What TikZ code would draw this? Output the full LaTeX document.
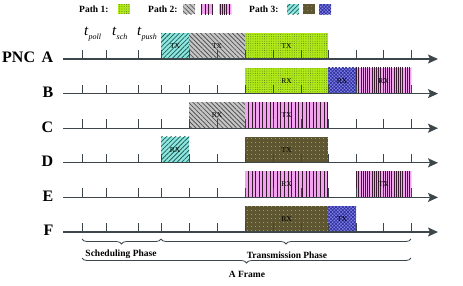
\documentclass[tikz,border=0pt]{standalone}
\usepackage{fontspec}
\setmainfont{Liberation Serif}
\usetikzlibrary{patterns.meta,decorations.pathreplacing,arrows.meta}
\definecolor{axisc}{HTML}{3C464B}
\definecolor{limeg}{HTML}{B0E81A}
\definecolor{limedot}{HTML}{4E7A10}
\definecolor{grayh}{HTML}{C6C6C6}
\definecolor{grayl}{HTML}{555555}
\definecolor{pinkf}{HTML}{F2A2EE}
\definecolor{pinkl}{HTML}{3A1A30}
\definecolor{cyanf}{HTML}{8FE8E0}
\definecolor{cyanl}{HTML}{1F5F5A}
\definecolor{olivef}{HTML}{5E5630}
\definecolor{olived}{HTML}{D8D060}
\definecolor{bluef}{HTML}{8484F0}
\definecolor{bluel}{HTML}{30309A}
\newcommand\myslot[6]{% name, row y, x1, x2, style, text
  \fill[#5] (#3,-#2) rectangle (#4,-#2+26);
  \node[slotlbl] (#1) at ({(#3+#4)/2},-#2+13) {#6};}
\begin{document}
\begin{tikzpicture}[x=1pt,y=1pt,
  pA/.style={fill=limeg,postaction={pattern={Dots[radius=0.45pt,distance=2.3pt]},pattern color=limedot}},
  pB/.style={fill=grayh,postaction={pattern={Lines[angle=-45,distance=3.2pt,line width=0.8pt]},pattern color=grayl}},
  pC/.style={fill=pinkf,postaction={pattern={Lines[angle=90,distance=3.6pt,line width=0.7pt]},pattern color=pinkl}},
  pD/.style={fill=pinkf,postaction={pattern={Lines[angle=90,distance=2.2pt,line width=0.55pt]},pattern color=pinkl}},
  pE/.style={fill=cyanf,postaction={pattern={Lines[angle=45,distance=3.2pt,line width=0.8pt]},pattern color=cyanl}},
  pF/.style={fill=olivef,postaction={pattern={Dots[radius=0.5pt,distance=4pt]},pattern color=olived}},
  pG/.style={fill=bluef,postaction={pattern={Hatch[angle=45,distance=2.4pt,line width=0.7pt]},pattern color=bluel}},
  slotlbl/.style={inner sep=0pt,font=\fontsize{7.5}{8}\selectfont},
  axisline/.style={draw=axisc,line width=1.3pt,-{Stealth[length=10pt,width=9pt,inset=2pt]}},
  tickline/.style={draw=axisc,line width=0.9pt},
  rowlbl/.style={inner sep=0pt,font=\fontsize{16}{18}\selectfont\bfseries,anchor=base east},
  leglbl/.style={inner sep=0pt,font=\fontsize{9.5}{11}\selectfont\bfseries,anchor=base west},
  phaselbl/.style={inner sep=0pt,font=\fontsize{9.5}{11}\selectfont\bfseries,anchor=base},
  tlbl/.style={inner sep=0pt,anchor=base west},
  bracel/.style={draw=axisc,line width=0.8pt,decorate,decoration={brace,mirror,amplitude=5pt}}]
\useasboundingbox (0,0) rectangle (463,-285);
% legend
\node[leglbl] (lp1) at (79,-12) {Path 1:};
\fill[pA] (118,-4) rectangle (130,-14);
\node[leglbl] (lp2) at (148,-12) {Path 2:};
\fill[pB] (183,-4) rectangle (195,-14);
\fill[pC] (201,-4) rectangle (213,-14);
\fill[pD] (219,-4) rectangle (231,-14);
\node[leglbl] (lp3) at (249,-12) {Path 3:};
\fill[pE] (287,-4) rectangle (299,-14);
\fill[pF] (303,-4) rectangle (315,-14);
\fill[pG] (319,-4) rectangle (331,-14);
% t labels
\node[tlbl] (tpoll) at (84,-35) {\fontsize{15}{15}\selectfont\textit{t}\raisebox{-4pt}{\fontsize{8}{8}\selectfont\textit{poll}}};
\node[tlbl] (tsch) at (112,-35) {\fontsize{15}{15}\selectfont\textit{t}\raisebox{-4pt}{\fontsize{8}{8}\selectfont\textit{sch}}};
\node[tlbl] (tpush) at (137,-35) {\fontsize{15}{15}\selectfont\textit{t}\raisebox{-4pt}{\fontsize{8}{8}\selectfont\textit{push}}};
% slots
\myslot{a1}{59}{161}{189}{pE}{TX}
\myslot{a2}{59}{189}{245}{pB}{TX}
\myslot{a3}{59}{245}{328}{pA}{TX}
\myslot{b1}{93.6}{245}{328}{pA}{RX}
\myslot{b2}{93.6}{328}{356}{pG}{RX}
\myslot{b3}{93.6}{356}{411}{pD}{RX}
\myslot{c1}{128.2}{189}{245}{pB}{RX}
\myslot{c2}{128.2}{245}{328}{pC}{TX}
\myslot{d1}{162.8}{161}{189}{pE}{RX}
\myslot{d2}{162.8}{245}{328}{pF}{TX}
\myslot{e1}{197.4}{245}{328}{pC}{RX}
\myslot{e2}{197.4}{356}{411}{pD}{TX}
\myslot{f1}{232}{245}{328}{pF}{RX}
\myslot{f2}{232}{328}{356}{pG}{TX}
% axes
\node[inner sep=0pt,font=\fontsize{16}{18}\selectfont\bfseries,anchor=base west] (lpnc) at (2,-62.8) {PNC};
\foreach \n/\y in {A/59,B/93.6,C/128.2,D/162.8,E/197.4,F/232}{
  \coordinate (s\n) at (63,-\y);
  \coordinate (e\n) at (438,-\y);
  \node[rowlbl] (l\n) at (53.5,-\y-3.8) {\n};
  \draw[axisline] (s\n) -- (e\n);
  \foreach \t in {82,106,138,161,189,217,245,273,301,328,356,383,411}
    \draw[tickline] (\t,-\y) -- ++(0,9);
}
% braces
\coordinate (b1s) at (82,-239);
\coordinate (b1e) at (161,-239);
\coordinate (b2e) at (411,-239);
\coordinate (b3s) at (82,-258);
\coordinate (b3e) at (411,-258);
\draw[bracel] (b1s) -- (b1e);
\draw[bracel] (b1e) -- (b2e);
\draw[bracel] (b3s) -- (b3e);
\node[phaselbl] (sch) at (121,-256) {Scheduling Phase};
\node[phaselbl] (trp) at (287,-258) {Transmission Phase};
\node[phaselbl] (frm) at (247,-277) {A Frame};
\end{tikzpicture}
\end{document}
